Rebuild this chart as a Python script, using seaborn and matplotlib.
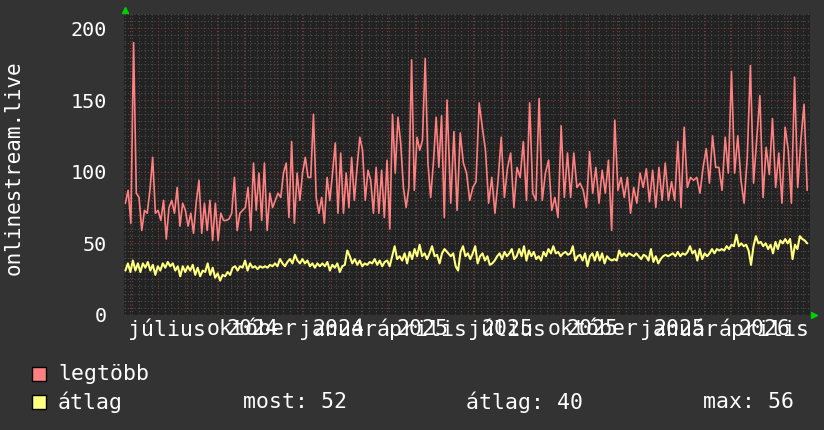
import pandas as pd
import numpy as np
import matplotlib
matplotlib.use("Agg")
import matplotlib.pyplot as plt
import matplotlib.dates as mdates
import matplotlib.lines as mlines
import matplotlib.patches as mpatches
import matplotlib.ticker as mticker
import matplotlib.transforms as mtransforms
import seaborn as sns

# --- adatok ---
# legtöbb: 2024.05.27 - 2025.05.04
legtobb_1 = [78, 87, 64, 190, 85, 82, 59, 73, 71, 87, 110, 71, 73, 66, 80, 53, 75, 80, 71, 89,
             62, 78, 73, 62, 71, 57, 79, 94, 57, 78, 59, 80, 52, 78, 52, 71, 66, 66, 67, 71,
             96, 59, 71, 73, 75, 89, 59, 106, 73, 99, 66, 106, 59, 85, 75, 80, 85, 82, 99, 106,
             68, 121, 64, 99, 80, 99, 110, 96, 96, 140, 82, 71, 82, 64, 96, 80, 99, 120, 71, 113,
             71, 99, 75, 110, 80, 103, 124, 115, 80, 101, 94, 71, 103, 71, 101, 68, 108, 60, 140, 99,
             138, 120, 89, 75, 89, 178, 87, 124, 115, 122, 179, 106, 82, 106, 138, 103, 139, 68, 150]
# legtöbb: 2025.05.08 - 2026.05.22
legtobb_2 = [78, 128, 73, 127, 106, 99, 80, 89, 93, 148, 131, 115, 78, 96, 71, 94, 124, 82, 103, 113,
             75, 103, 96, 121, 80, 148, 85, 80, 151, 80, 99, 108, 73, 82, 68, 132, 82, 113, 82, 113,
             89, 92, 87, 75, 114, 85, 103, 78, 101, 85, 108, 59, 136, 87, 96, 82, 96, 71, 89, 78,
             99, 89, 102, 79, 101, 75, 103, 80, 106, 80, 93, 80, 121, 75, 131, 89, 96, 94, 96, 85,
             103, 116, 92, 125, 103, 103, 87, 124, 99, 170, 99, 125, 94, 78, 110, 174, 92, 122, 153, 82,
             117, 98, 137, 89, 113, 78, 131, 115, 78, 166, 89, 122, 147, 87]

atlag_1 = [31, 36, 30, 38, 31, 36, 30, 36, 33, 37, 31, 35, 28, 34, 31, 36, 33, 37, 34, 36,
           31, 34, 27, 34, 30, 34, 31, 35, 28, 33, 27, 31, 30, 36, 28, 33, 26, 29, 24, 28,
           27, 30, 28, 33, 34, 31, 34, 33, 38, 31, 36, 33, 34, 32, 34, 33, 34, 33, 35, 34,
           36, 34, 39, 36, 34, 37, 39, 36, 42, 38, 36, 39, 36, 38, 34, 36, 33, 36, 34, 36,
           34, 37, 31, 35, 33, 36, 30, 34, 35, 45, 41, 36, 39, 35, 38, 34, 36, 35, 37, 36,
           39, 35, 38, 34, 37, 38, 34, 41, 48, 39, 41, 38, 43, 36, 44, 39, 46, 41, 49, 41,
           43, 39, 43, 48, 41, 42, 36, 43, 46, 44]
atlag_2 = [41, 43, 34, 31, 44, 48, 41, 43, 39, 43, 48, 36, 41, 43, 38, 41, 35, 36, 38, 41,
           43, 39, 44, 41, 43, 46, 39, 41, 46, 41, 48, 38, 45, 41, 44, 39, 41, 38, 44, 41,
           46, 43, 48, 43, 44, 41, 43, 44, 42, 43, 48, 38, 41, 42, 38, 43, 34, 41, 43, 38,
           44, 38, 43, 36, 41, 39, 38, 39, 38, 45, 41, 43, 41, 43, 42, 41, 43, 41, 39, 42,
           41, 38, 46, 37, 41, 36, 39, 41, 42, 41, 42, 43, 41, 44, 41, 43, 42, 44, 48, 43,
           45, 38, 46, 39, 43, 41, 43, 46, 43, 46, 45, 46, 45, 48, 46, 49, 48, 56, 48, 50,
           48, 49, 45, 35, 48, 55, 50, 51, 48, 50, 46, 49, 43, 51, 46, 52, 50, 53, 50, 53,
           39, 49, 46, 55, 53, 52, 50]

honap_cimkek = ["július", "október", "január", "április", "július", "október", "január", "április"]
ev_cimkek = ["", "2024", "2024", "2025", "2025", "2025", "2025", "2026"]
cimke_datumok = ["2024-07-10", "2024-10-09", "2025-01-08", "2025-04-08",
                 "2025-07-07", "2025-10-06", "2026-01-06", "2026-04-06"]
y_tickek = [0, 50, 100, 150, 200]
statisztika = ["most: 52", "átlag: 40", "max: 56"]

PIROS = "#ff8080"
SARGA = "#ffff80"
HATTER = "#333333"
VASZON = "#222222"
FONT = ["DejaVu Sans Mono"]


def sorozat(nev, v1, v2):
    d1 = pd.date_range("2024-05-27", "2025-05-04", periods=len(v1))
    d2 = pd.date_range("2025-05-08", "2026-05-22", periods=len(v2))
    return pd.DataFrame({"datum": d1.append(d2), "ertek": v1 + v2, "sorozat": nev})


df_max = sorozat("legtöbb", legtobb_1, legtobb_2)
df_atl = sorozat("átlag", atlag_1, atlag_2)

sns.set_theme(style="dark", rc={"axes.facecolor": VASZON, "figure.facecolor": HATTER})
plt.rcParams["font.family"] = FONT

fig = plt.figure(figsize=(8.24, 4.30), dpi=100)
ax = fig.add_axes([124 / 824, 115 / 430, 686 / 824, 301 / 430])

sns.lineplot(data=df_max, x="datum", y="ertek", color=PIROS, linewidth=1.2,
             estimator=None, ax=ax)
sns.lineplot(data=df_atl, x="datum", y="ertek", color=SARGA, linewidth=1.5,
             estimator=None, ax=ax)

ax.set_xlim(pd.Timestamp("2024-05-25 12:00"), pd.Timestamp("2026-05-25"))
ax.set_ylim(0, 210)

# rács
ax.xaxis.set_major_locator(mdates.MonthLocator())
ax.xaxis.set_minor_locator(mdates.WeekdayLocator(byweekday=mdates.MO))
ax.yaxis.set_major_locator(mticker.FixedLocator(y_tickek))
ax.yaxis.set_minor_locator(mticker.MultipleLocator(5))
ax.grid(True, which="minor", color="#4e4e4e", linestyle=(0, (1, 2)), linewidth=0.8)
ax.grid(True, which="major", color="#853a3a", linestyle=(0, (1, 2)), linewidth=0.8)
ax.set_axisbelow(True)
for s in ax.spines.values():
    s.set_visible(False)

ax.set_xticklabels([])
ax.tick_params(axis="both", which="both", length=0)
ax.tick_params(axis="y", labelcolor="white", labelsize=14.5, pad=12)
ax.set_xlabel("")
ax.set_ylabel("")

# x címkék (hónap + év egymásra rajzolva)
trans = mtransforms.blended_transform_factory(ax.transData, ax.transAxes)
for d, h, e in zip(cimke_datumok, honap_cimkek, ev_cimkek):
    x = mdates.date2num(pd.Timestamp(d))
    ax.text(x, -14 / 301, h, transform=trans, ha="center", va="center",
            color="white", fontsize=15.5, clip_on=False)
    if e:
        ax.text(x, -14 / 301, e, transform=trans, ha="center", va="center",
                color="white", fontsize=15.5, clip_on=False)

fig.text(14 / 824, 1 - 168 / 430, "onlinestream.live", rotation=90, ha="center",
         va="center", color="white", fontsize=15)

# nyilak
fig.add_artist(mlines.Line2D([125 / 824], [1 - 10 / 430], marker="^", color="#00d000",
                             markersize=5, transform=fig.transFigure))
fig.add_artist(mlines.Line2D([814 / 824], [1 - 315 / 430], marker=">", color="#00d000",
                             markersize=5, transform=fig.transFigure))

# jelmagyarázat
for i, (nev, szin) in enumerate([("legtöbb", PIROS), ("átlag", SARGA)]):
    yc = 374 + i * 28
    fig.add_artist(mpatches.Rectangle((32 / 824, 1 - (yc + 7) / 430), 14 / 824, 14 / 430,
                                      facecolor=szin, edgecolor="black", linewidth=1,
                                      transform=fig.transFigure))
    fig.text(58 / 824, 1 - yc / 430, nev, ha="left", va="center", color="white", fontsize=15.5)

for xp, t in zip([243, 466, 703], statisztika):
    fig.text(xp / 824, 1 - 402 / 430, t, ha="left", va="center", color="white", fontsize=15.5)

plt.savefig("out.png", dpi=100, facecolor=HATTER)
